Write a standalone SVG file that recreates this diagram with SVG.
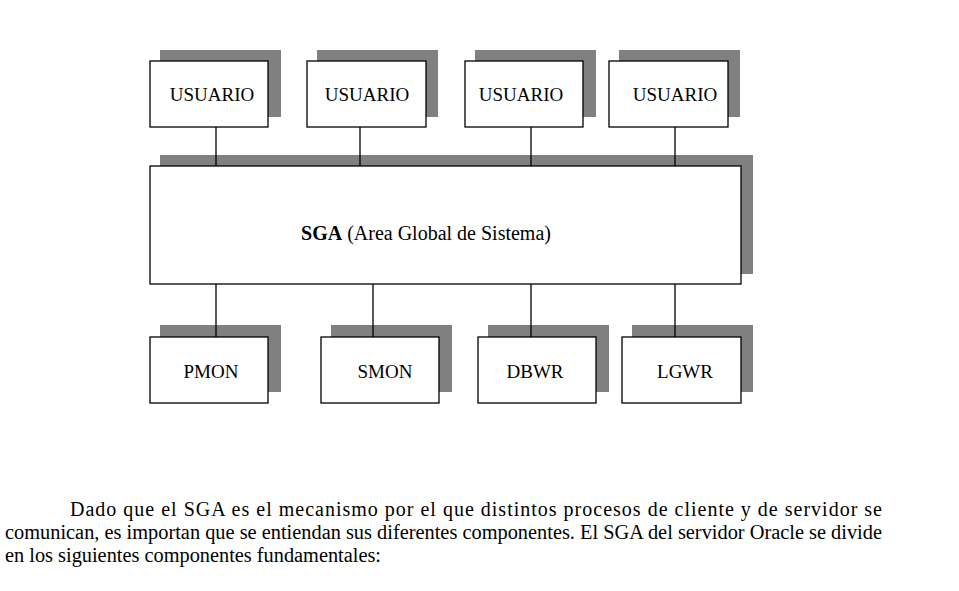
<svg xmlns="http://www.w3.org/2000/svg" width="959" height="591" viewBox="0 0 959 591">
<style>
.sh{fill:#808080}
.bx{fill:#fff;stroke:#000;stroke-width:1.3}
.t{font-family:"Liberation Serif",serif;font-size:19px;text-anchor:middle}
.p{font-family:"Liberation Serif",serif;font-size:20px}
#conn line{stroke:#000;stroke-width:1.3}
</style>
<rect width="959" height="591" fill="#fff"/>
<g id="u1"><rect class="sh" x="160" y="50" width="121" height="67"/><rect class="bx" x="150" y="61" width="118" height="66"/><text class="t" x="212" y="101">USUARIO</text></g>
<g id="u2"><rect class="sh" x="317" y="50" width="121" height="67"/><rect class="bx" x="307" y="61" width="119" height="66"/><text class="t" x="367" y="101">USUARIO</text></g>
<g id="u3"><rect class="sh" x="475" y="50" width="121" height="67"/><rect class="bx" x="465" y="61" width="118" height="66"/><text class="t" x="521" y="101">USUARIO</text></g>
<g id="u4"><rect class="sh" x="619" y="50" width="121" height="67"/><rect class="bx" x="609" y="61" width="119" height="66"/><text class="t" x="675" y="101">USUARIO</text></g>
<g id="sga"><rect class="sh" x="160" y="155" width="593" height="119"/><rect class="bx" x="150" y="166" width="591" height="118"/><text class="t" x="426" y="240" style="font-size:20px"><tspan font-weight="bold">SGA</tspan> (Area Global de Sistema)</text></g>
<g id="pmon"><rect class="sh" x="160" y="325" width="121" height="67"/><rect class="bx" x="150" y="337" width="118" height="66"/><text class="t" x="211" y="378">PMON</text></g>
<g id="smon"><rect class="sh" x="331" y="325" width="121" height="67"/><rect class="bx" x="321" y="337" width="118" height="66"/><text class="t" x="385" y="378">SMON</text></g>
<g id="dbwr"><rect class="sh" x="488" y="325" width="121" height="67"/><rect class="bx" x="478" y="337" width="118" height="66"/><text class="t" x="535" y="378">DBWR</text></g>
<g id="lgwr"><rect class="sh" x="632" y="325" width="121" height="67"/><rect class="bx" x="622" y="337" width="119" height="66"/><text class="t" x="685" y="378">LGWR</text></g>
<g id="conn">
<line x1="216" y1="127" x2="216" y2="166"/><line x1="360" y1="127" x2="360" y2="166"/><line x1="531" y1="127" x2="531" y2="166"/><line x1="675" y1="127" x2="675" y2="166"/>
<line x1="216" y1="284" x2="216" y2="337"/><line x1="373" y1="284" x2="373" y2="337"/><line x1="531" y1="284" x2="531" y2="337"/><line x1="675" y1="284" x2="675" y2="337"/>
</g>
<text class="p" x="70" y="516" textLength="812" lengthAdjust="spacing">Dado que el SGA es el mecanismo por el que distintos procesos de cliente y de servidor se</text>
<text class="p" x="5" y="539" textLength="877" lengthAdjust="spacingAndGlyphs">comunican, es importan que se entiendan sus diferentes componentes. El SGA del servidor Oracle se divide</text>
<text class="p" x="5" y="562" textLength="376" lengthAdjust="spacingAndGlyphs">en los siguientes componentes fundamentales:</text>
</svg>
